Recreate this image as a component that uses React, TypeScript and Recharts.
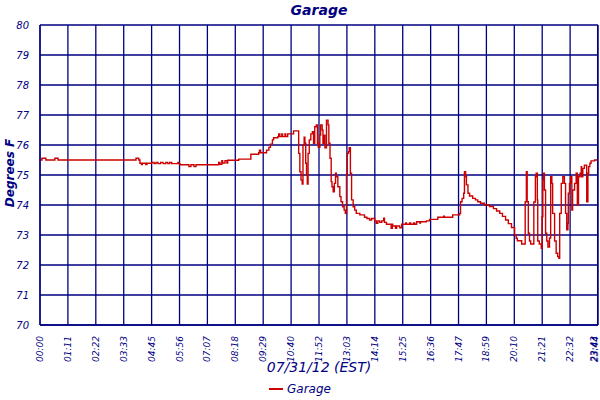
import { LineChart, Line, XAxis, YAxis, CartesianGrid } from "recharts";

// minutes after midnight, 07/31/12
const minutes = [
  0, 5, 15, 38, 46, 245, 252, 255, 259, 261, 270, 273, 285, 291, 296, 301, 308, 314, 321, 326,
  331, 336, 352, 354, 357, 380, 385, 393, 398, 456, 459, 464, 466, 472, 477, 479, 507, 538, 558, 560,
  563, 578, 584, 588, 593, 596, 607, 609, 612, 617, 619, 625, 627, 632, 647, 660, 663, 666, 669, 671,
  674, 676, 678, 680, 682, 684, 687, 691, 695, 698, 701, 705, 708, 710, 714, 716, 720, 722, 725, 727,
  731, 735, 737, 740, 743, 745, 748, 751, 754, 756, 760, 765, 768, 772, 776, 779, 782, 784, 787, 789,
  792, 795, 799, 803, 807, 816, 828, 834, 841, 846, 854, 858, 862, 867, 872, 877, 879, 884, 896, 899,
  900, 907, 910, 918, 923, 933, 935, 943, 946, 953, 956, 961, 969, 971, 986, 994, 1015, 1030, 1032, 1053,
  1071, 1073, 1077, 1081, 1083, 1086, 1088, 1092, 1096, 1104, 1111, 1117, 1124, 1134, 1147, 1157, 1165, 1173, 1180, 1188,
  1195, 1203, 1211, 1215, 1218, 1229, 1238, 1241, 1243, 1246, 1249, 1252, 1260, 1264, 1266, 1269, 1270, 1274, 1279, 1281,
  1283, 1285, 1287, 1290, 1293, 1296, 1300, 1303, 1306, 1308, 1313, 1317, 1321, 1324, 1326, 1330, 1334, 1338, 1341, 1344,
  1347, 1348, 1351, 1354, 1357, 1359, 1364, 1368, 1371, 1374, 1378, 1381, 1382, 1385, 1389, 1395, 1398, 1400, 1403, 1406,
  1415, 1422,
];

const garage = [
  75.5, 75.56, 75.5, 75.56, 75.5, 75.56, 75.5, 75.39, 75.35, 75.39, 75.35, 75.39, 75.42, 75.38, 75.42, 75.38, 75.42, 75.38, 75.42, 75.38,
  75.42, 75.38, 75.42, 75.38, 75.34, 75.28, 75.34, 75.28, 75.34, 75.42, 75.36, 75.48, 75.4, 75.48, 75.4, 75.49, 75.53, 75.69, 75.74, 75.83,
  75.74, 75.83, 75.92, 76.03, 76.17, 76.24, 76.28, 76.37, 76.28, 76.37, 76.28, 76.37, 76.28, 76.37, 76.47, 75.72, 75.11, 74.83, 74.7, 76.0,
  76.26, 76.06, 75.39, 75.0, 74.7, 75.72, 76.17, 76.37, 76.44, 76.06, 76.61, 76.67, 76.06, 75.92, 76.33, 76.67, 76.5, 76.06, 76.33, 75.91,
  76.83, 76.67, 76.06, 75.56, 74.78, 74.61, 74.44, 74.72, 75.06, 74.94, 74.61, 74.28, 74.11, 73.94, 73.83, 73.72, 75.0, 75.72, 75.78, 75.91,
  75.06, 74.17, 73.94, 73.83, 73.72, 73.67, 73.59, 73.55, 73.5, 73.55, 73.47, 73.39, 73.47, 73.42, 73.47, 73.56, 73.42, 73.36, 73.22, 73.36,
  73.3, 73.22, 73.3, 73.24, 73.36, 73.4, 73.36, 73.4, 73.36, 73.4, 73.36, 73.44, 73.4, 73.44, 73.47, 73.52, 73.59, 73.63, 73.59, 73.67,
  73.72, 74.11, 74.22, 74.39, 75.11, 74.94, 74.67, 74.39, 74.3, 74.22, 74.17, 74.11, 74.06, 74.0, 73.95, 73.88, 73.8, 73.72, 73.62, 73.5,
  73.38, 73.25, 73.0, 72.89, 72.81, 72.7, 74.11, 75.11, 74.11, 73.06, 72.8, 72.7, 74.1, 74.94, 75.06, 74.17, 72.8, 72.7, 72.56, 73.61,
  74.83, 75.06, 74.5, 73.06, 72.8, 72.6, 72.9, 74.94, 74.72, 73.72, 72.8, 72.39, 72.28, 72.22, 73.72, 74.72, 74.94, 74.72, 73.72, 73.17,
  73.39, 74.39, 74.72, 74.94, 73.83, 74.5, 74.72, 75.06, 74.0, 74.94, 75.06, 75.28, 74.94, 75.22, 75.33, 74.11, 75.06, 75.28, 75.39, 75.47,
  75.5, 75.5,
];

const xTickLabels = [
  "00:00", "01:11", "02:22", "03:33", "04:45", "05:56", "07:07", "08:18", "09:29", "10:40",
  "11:52", "13:03", "14:14", "15:25", "16:36", "17:47", "18:59", "20:10", "21:21", "22:32",
  "23:43", "23:44",
];
const xTickValues = [
  0, 71.2, 142.4, 213.6, 284.8, 356, 427.1, 498.3, 569.5, 640.7,
  711.9, 783.1, 854.3, 925.5, 996.7, 1067.9, 1139, 1210.2, 1281.4, 1352.6,
  1422.8, 1423.75,
];
const yTicks = [70, 71, 72, 73, 74, 75, 76, 77, 78, 79, 80];

const data = minutes.map((m, i) => ({ t: m, garage: garage[i] }));

const NAVY = "#000080";
const FONT = "'DejaVu Sans', Verdana, sans-serif";

function XTick({ x, y, index }: any) {
  // the last two labels sit on the right border, nudge them inside
  const shift = index >= xTickLabels.length - 2 ? index - xTickLabels.length - 2 : 0;
  return (
    <text
      x={x}
      y={y}
      transform={`rotate(-90, ${x}, ${y})`}
      dx={-3}
      dy={3 + shift}
      textAnchor="end"
      fontSize={9}
      fontStyle="italic"
      fontFamily={FONT}
      fill={NAVY}
    >
      {xTickLabels[index]}
    </text>
  );
}

export default function App() {
  return (
    <div style={{ position: "relative", width: 600, height: 400, fontFamily: FONT, background: "#fff" }}>
      <style>{"body{margin:0}"}</style>
      <LineChart
        width={600}
        height={400}
        data={data}
        margin={{ top: 25, right: 2, bottom: 35, left: 0 }}
      >
        <CartesianGrid stroke={NAVY} strokeWidth={1.3} verticalValues={xTickValues} horizontalValues={yTicks} />
        <XAxis
          dataKey="t"
          type="number"
          domain={[0, 1423.75]}
          ticks={xTickValues}
          interval={0}
          height={40}
          tick={<XTick />}
          tickLine={false}
          axisLine={{ stroke: NAVY, strokeWidth: 1.3 }}
          allowDataOverflow
        />
        <YAxis
          domain={[70, 80]}
          ticks={yTicks}
          width={40}
          tickLine={false}
          axisLine={{ stroke: NAVY, strokeWidth: 1.3 }}
          tick={{ fill: NAVY, fontSize: 10, fontStyle: "italic", fontFamily: FONT }}
          tickMargin={5}
        />
        <Line
          type="stepAfter"
          dataKey="garage"
          stroke="#cc0000"
          strokeWidth={1.4}
          dot={false}
          isAnimationActive={false}
        />
      </LineChart>
      <div
        style={{
          position: "absolute", top: 0, left: 40, width: 558, textAlign: "center",
          color: NAVY, fontStyle: "italic", fontWeight: "bold", fontSize: 14, lineHeight: "20px",
        }}
      >
        Garage
      </div>
      <div
        style={{
          position: "absolute", left: 10, top: 173, transform: "translate(-50%, -50%) rotate(-90deg)",
          color: NAVY, fontStyle: "italic", fontWeight: "bold", fontSize: 12, whiteSpace: "nowrap",
        }}
      >
        Degrees F
      </div>
      <div
        style={{
          position: "absolute", top: 357, left: 40, width: 558, textAlign: "center",
          color: NAVY, fontStyle: "italic", fontSize: 14, lineHeight: "20px",
        }}
      >
        07/31/12 (EST)
      </div>
      <div
        style={{
          position: "absolute", top: 381, left: 0, width: 600, display: "flex",
          justifyContent: "center", alignItems: "center", color: NAVY,
          fontStyle: "italic", fontSize: 12, lineHeight: "16px",
        }}
      >
        <span style={{ display: "inline-block", width: 14, height: 2, background: "#cc0000", marginRight: 4 }} />
        Garage
      </div>
    </div>
  );
}
